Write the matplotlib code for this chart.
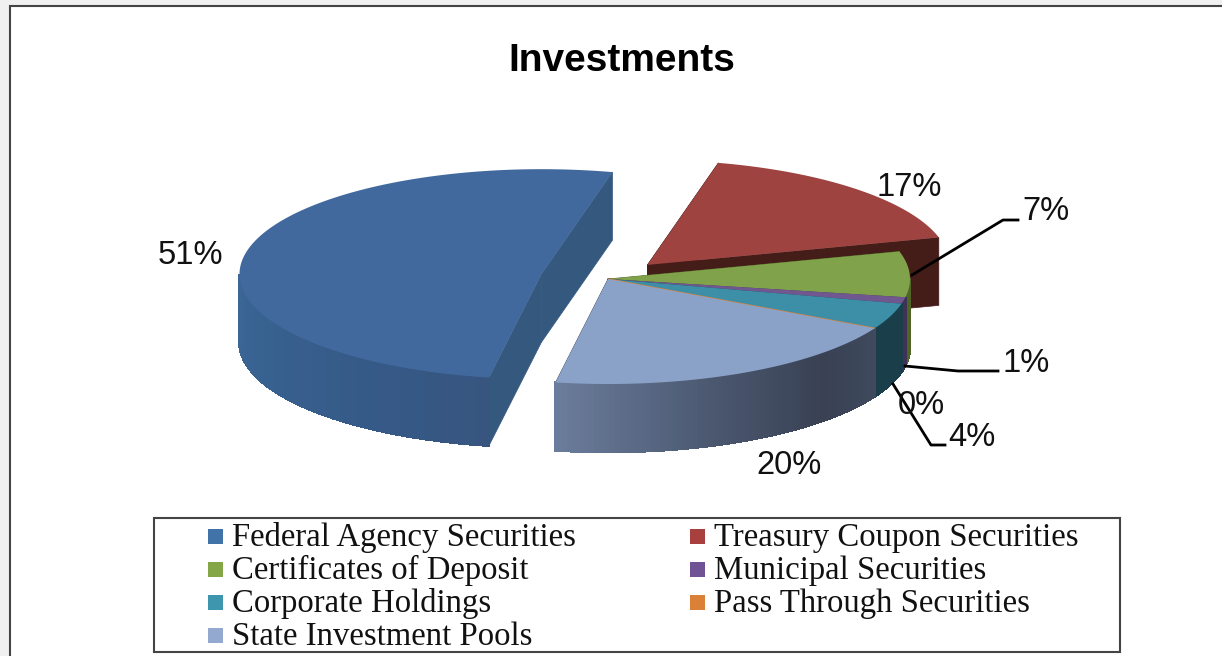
import numpy as np
import matplotlib
matplotlib.use('Agg')
from matplotlib import pyplot as plt
from matplotlib.colors import to_rgb
from matplotlib.patches import Polygon, Rectangle

# data, clockwise from the rotation angle
categories = ['Federal Agency Securities', 'Treasury Coupon Securities', 'Certificates of Deposit',
              'Municipal Securities', 'Corporate Holdings', 'Pass Through Securities', 'State Investment Pools']
shares = [51, 17, 7, 1, 4, 0, 20]
top_colors = ['#42699d', '#9e4340', '#80a24a', '#71578f', '#3c8fa7', '#db843d', '#8ba2c8']
key_colors = ['#4172a8', '#a8413e', '#85a646', '#6f5394', '#3d96ae', '#da8137', '#93a9cf']
explode = [0.225, 0.187, 0, 0, 0, 0, 0]
labels = ['51%', '17%', '7%', '1%', '4%', '0%', '20%']
label_pos = [(190, 256), (909, 187), (1046, 212), (1026, 363), (972, 437), (921, 405), (789, 465)]
# colours of the outer wall, (angle, colour) stops
wall_stops = [
    [(190, '#37557f'), (215, '#365a88'), (245, '#37618f'), (270, '#3c6696')],
    [(14, '#441c18'), (75, '#441c18')],
    [(75, '#4f6526'), (100, '#4f6526')],
    [(100, '#3f3157'), (104, '#3f3157')],
    [(104, '#1a3f4a'), (118, '#1a3f4a')],
    [(118, '#3f4a5e'), (119, '#3f4a5e')],
    [(118, '#3f4a5e'), (135, '#394153'), (160, '#4b5870'), (190, '#6b7d9c')],
]
face_colors = ['#35587f', '#441c18', '#4f6526', '#3f3157', '#1a3f4a', '#3f4a5e', '#3f4a5e']

# pie projection in pixels
CX, CY = 608, 279
RX, RY = 302, 105
DEPTH = 68
START = 190

fig = plt.figure(figsize=(12.22, 6.56), dpi=100, facecolor='#f0f0f0')
ax = fig.add_axes([0, 0, 1, 1])
ax.set_xlim(0, 1222)
ax.set_ylim(656, 0)
ax.axis('off')

ax.add_patch(Rectangle((10, 6), 1300, 700, fc='white', ec='#444444', lw=1.5))


def point(theta, cx, cy):
    t = np.radians(theta)
    return cx + RX * np.sin(t), cy - RY * np.cos(t)


def wall_color(stops, theta):
    angles = [s[0] for s in stops]
    rgb = np.array([to_rgb(s[1]) for s in stops])
    return [np.interp(theta, angles, rgb[:, i]) for i in range(3)]


edges = START + np.cumsum([0] + [s * 3.6 for s in shares])
slices = []
for i, s in enumerate(shares):
    a0, a1 = edges[i], edges[i + 1]
    # everything after the federal slice has gone past the top of the pie
    if i > 0:
        a0, a1 = a0 - 360, a1 - 360
    mid = np.radians((a0 + a1) / 2)
    cx = CX + explode[i] * RX * np.sin(mid)
    cy = CY - explode[i] * RY * np.cos(mid)
    slices.append((a0, a1, cx, cy))

# federal and treasury first, they lie behind the rest
for i in [1, 0, 2, 3, 4, 5, 6]:
    a0, a1, cx, cy = slices[i]
    z = 2 + i * 0.01
    if i == 0:
        z = 1.5
    if i == 1:
        z = 1.6

    # radial cut faces, the one further back first
    for a in sorted([a0, a1], key=lambda v: np.cos(np.radians(v)), reverse=True):
        x, y = point(a, cx, cy)
        ax.add_patch(Polygon([(cx, cy), (x, y), (x, y + DEPTH), (cx, cy + DEPTH)],
                             fc=face_colors[i], ec=face_colors[i], lw=0.5, zorder=z))

    # outer wall only where it faces us (90 to 270 degrees)
    lo, hi = max(a0, 90), min(a1, 270)
    if hi > lo:
        for t in np.arange(lo, hi, 1.0):
            t2 = min(t + 1.0, hi)
            x0, y0 = point(t, cx, cy)
            x1, y1 = point(t2, cx, cy)
            c = wall_color(wall_stops[i], t)
            ax.add_patch(Polygon([(x0, y0), (x1, y1), (x1, y1 + DEPTH), (x0, y0 + DEPTH)],
                                 fc=c, ec=c, lw=1.2, antialiased=False, zorder=z + 0.001))

for i in range(len(shares)):
    a0, a1, cx, cy = slices[i]
    th = np.linspace(a0, a1, 120)
    pts = [(cx, cy)] + [point(t, cx, cy) for t in th]
    z = 3 + i * 0.01
    if i < 2:
        z = 1.5 + i * 0.1 + 0.005
    lw = 1.0 if shares[i] == 0 else 0
    ax.add_patch(Polygon(pts, fc=top_colors[i], ec=top_colors[i], lw=lw, zorder=z))

# leader lines
leaders = [
    ([912, 1003, 1018], [275, 220, 220]),
    ([905, 958, 998], [366, 371, 371]),
    ([893, 931, 945], [384, 445, 445]),
]
for xs, ys in leaders:
    ax.plot(xs, ys, color='black', lw=2, zorder=5)

for lab, (x, y) in zip(labels, label_pos):
    ax.text(x, y, lab, ha='center', va='center', fontsize=23.5, family='Liberation Sans', color='#111111', zorder=6)

ax.text(622, 61, 'Investments', ha='center', va='center', fontsize=28, fontweight='bold',
        family='Liberation Sans', color='black')

# legend box
ax.add_patch(Rectangle((154, 518), 966, 134, fc='white', ec='#444444', lw=1.5, zorder=4))
col_x = [208, 690]
row_y = [546, 579, 612, 645]
for i, name in enumerate(categories):
    x = col_x[i % 2]
    y = row_y[i // 2]
    ax.add_patch(Rectangle((x, y - 17), 15, 15, fc=key_colors[i], ec='none', zorder=5))
    ax.text(x + 24, y, name, ha='left', va='baseline', fontsize=23.6, family='Liberation Serif',
            color='#111111', zorder=5)

fig.savefig('out.png', dpi=100, facecolor=fig.get_facecolor())
